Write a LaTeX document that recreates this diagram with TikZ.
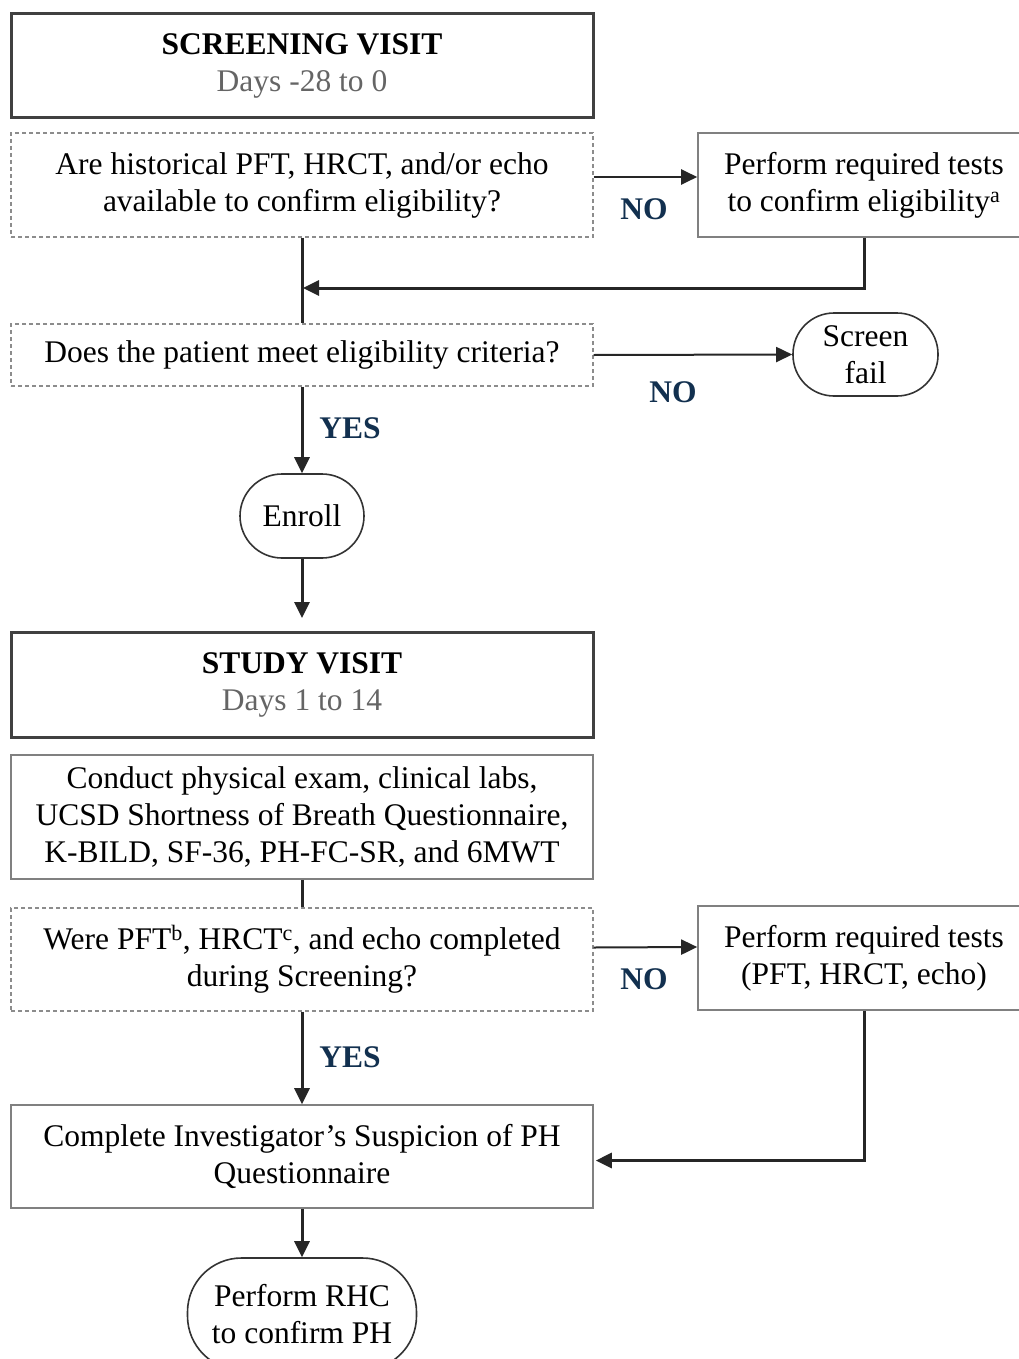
\documentclass[tikz,border=0pt]{standalone}
\usepackage{fontspec}
\setmainfont{Liberation Serif}
\usetikzlibrary{arrows.meta}
\definecolor{navy}{HTML}{12304F}
\definecolor{hdrgray}{HTML}{656565}
\begin{document}
\begin{tikzpicture}[x=1pt,y=-1pt,
  base/.style={font=\fontsize{31.5}{37}\selectfont, align=center, inner sep=0pt},
  header/.style={base, draw=black!75, line width=3pt, minimum width=582pt, minimum height=104pt},
  qbox/.style={base, draw=black!45, dash pattern=on 4pt off 3pt, line width=1.3pt, minimum width=582pt},
  pbox/.style={base, draw=black!50, line width=1.6pt},
  term/.style={base, draw=black!80, line width=1.6pt},
  lbl/.style={font=\fontsize{31.5}{34}\selectfont\bfseries, text=navy},
  conn/.style={draw=black!85, line width=3pt, -{Triangle[length=16pt,width=15pt]}},
  thinconn/.style={draw=black!85, line width=2pt, -{Triangle[length=16pt,width=15pt]}},
  plain/.style={draw=black!85, line width=3pt},
]
\useasboundingbox (0,0) rectangle (1019,1359);
\clip (0,0) rectangle (1019,1359);

\node[header] (scr) at (302,66) {\textbf{SCREENING VISIT}\\\textcolor{hdrgray}{Days -28 to 0}};
\node[qbox, minimum height=104pt] (q1) at (302,185) {Are historical PFT, HRCT, and/or echo\\available to confirm eligibility?};
\node[pbox, minimum width=332pt, minimum height=104pt] (p1) at (864,185) {Perform required tests\\to confirm eligibility\textsuperscript{a}};
\node[qbox, minimum height=62pt] (q2) at (302,355) {Does the patient meet eligibility criteria?};
\node[term, minimum width=145pt, minimum height=83pt, rounded corners=41pt] (sf) at (865.5,354.5) {Screen\\fail};
\node[term, minimum width=124pt, minimum height=84pt, rounded corners=42pt] (enr) at (302,516) {Enroll};
\node[header, minimum height=105pt] (stu) at (302,685) {\textbf{STUDY VISIT}\\\textcolor{hdrgray}{Days 1 to 14}};
\node[pbox, minimum width=582pt, minimum height=124pt] (cond) at (302,817) {Conduct physical exam, clinical labs,\\UCSD Shortness of Breath Questionnaire,\\K-BILD, SF-36, PH-FC-SR, and 6MWT};
\node[qbox, minimum height=103pt] (q3) at (302,959.5) {Were PFT\textsuperscript{b}, HRCT\textsuperscript{c}, and echo completed\\during Screening?};
\node[pbox, minimum width=332pt, minimum height=104pt] (p2) at (864,958) {Perform required tests\\(PFT, HRCT, echo)};
\node[pbox, minimum width=582pt, minimum height=103pt] (comp) at (302,1156.5) {Complete Investigator’s Suspicion of PH\\Questionnaire};
\node[term, minimum width=229pt, minimum height=112pt, rounded corners=54pt] (rhc) at (302,1314) {Perform RHC\\to confirm PH};

\coordinate (m1) at (303,288);

% connectors
\draw[plain] (q1.south) -- (q2.north);
\draw[thinconn] ([yshift=8pt]q1.east) -- ([yshift=8pt]p1.west);
\draw[conn] (p1.south) |- (m1);
\draw[thinconn] (q2.east) -- (sf.west);
\draw[conn] (q2.south) -- (enr.north);
\draw[conn, shorten >=13pt] (enr.south) -- (stu.north);
\draw[plain] (cond.south) -- (q3.north);
\draw[thinconn] ([yshift=12pt]q3.east) -- ([yshift=11pt]p2.west);
\draw[conn] (p2.south) |- ([yshift=-4pt,xshift=2pt]comp.east);
\draw[conn] (q3.south) -- (comp.north);
\draw[conn] (comp.south) -- (rhc.north);

% labels
\node[lbl] (no1) at (644,209) {NO};
\node[lbl] (no2) at (673,392) {NO};
\node[lbl] (no3) at (644,979) {NO};
\node[lbl] (yes1) at (350,428) {YES};
\node[lbl] (yes2) at (350,1057) {YES};
\end{tikzpicture}
\end{document}
